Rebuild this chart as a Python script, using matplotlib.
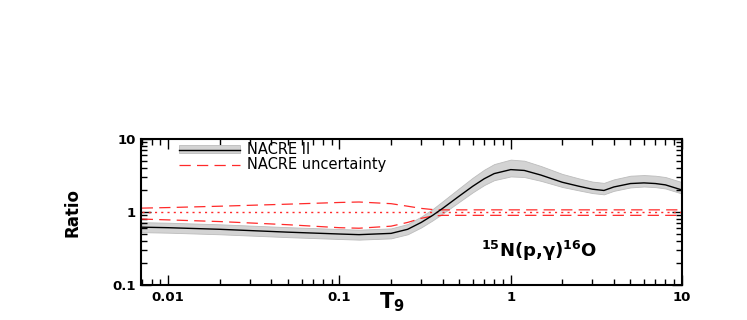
import matplotlib
matplotlib.use("Agg")
import matplotlib.pyplot as plt
import numpy as np
from matplotlib.ticker import LogLocator, NullFormatter, FixedLocator, FixedFormatter
from matplotlib.patches import Patch
from matplotlib.lines import Line2D

# NACRE II ratio curve
T = [0.007, 0.01, 0.02, 0.05, 0.1, 0.13, 0.2, 0.25, 0.3, 0.35, 0.4, 0.5, 0.6, 0.7,
     0.8, 1.0, 1.2, 1.5, 2.0, 2.5, 3.0, 3.5, 4.0, 5.0, 6.0, 7.0, 8.0, 10.0]
ratio = [0.62, 0.61, 0.58, 0.53, 0.50, 0.49, 0.51, 0.58, 0.72, 0.90, 1.12, 1.65, 2.25, 2.85,
         3.35, 3.8, 3.7, 3.2, 2.55, 2.25, 2.05, 1.97, 2.2, 2.45, 2.5, 2.45, 2.35, 2.0]
band_up = [1.17, 1.17, 1.17, 1.17, 1.17, 1.17, 1.17, 1.18, 1.2, 1.22, 1.25, 1.28, 1.31, 1.33,
           1.35, 1.37, 1.36, 1.33, 1.3, 1.28, 1.27, 1.27, 1.27, 1.28, 1.28, 1.28, 1.28, 1.28]
band_lo = [1.17, 1.17, 1.17, 1.17, 1.17, 1.17, 1.17, 1.17, 1.17, 1.17, 1.18, 1.2, 1.21, 1.22,
           1.23, 1.24, 1.23, 1.2, 1.16, 1.14, 1.13, 1.13, 1.13, 1.13, 1.12, 1.12, 1.12, 1.12]

# NACRE uncertainty
Tu = [0.007, 0.01, 0.02, 0.05, 0.1, 0.13, 0.2, 0.25, 0.3, 0.35, 0.4, 0.5, 1, 2, 5, 10]
nacre_up = [1.13, 1.15, 1.20, 1.28, 1.35, 1.37, 1.30, 1.20, 1.12, 1.08, 1.07, 1.07, 1.07, 1.07, 1.07, 1.07]
nacre_lo = [0.80, 0.78, 0.74, 0.67, 0.61, 0.60, 0.64, 0.72, 0.82, 0.88, 0.90, 0.90, 0.90, 0.90, 0.90, 0.90]
nacre_mid = [1.0] * len(Tu)

plt.rcParams['font.family'] = ['DejaVu Sans']

fig = plt.figure(figsize=(7.47, 3.2), dpi=100)
ax = fig.add_axes([0.189, 0.109, 0.724, 0.457])

band_color = '#d3d3d3'
Ta = np.array(T); ra = np.array(ratio)
ax.fill_between(Ta, ra / np.array(band_lo), ra * np.array(band_up), facecolor=band_color,
                edgecolor='#bcbcbc', linewidth=0.6, zorder=1)
ax.plot(Ta, ra, color='black', lw=1.0, zorder=3)

red = '#ff2a2a'
ax.plot(Tu, nacre_up, color=red, ls=(0, (9, 5)), lw=0.9, zorder=2)
ax.plot(Tu, nacre_lo, color=red, ls=(0, (9, 5)), lw=0.9, zorder=2)
ax.plot(Tu, nacre_mid, color=red, ls=(0, (1.5, 3)), lw=1.0, zorder=2)

ax.set_xscale('log'); ax.set_yscale('log')
ax.set_xlim(0.00695, 10); ax.set_ylim(0.1, 10)

ax.xaxis.set_major_locator(FixedLocator([0.01, 0.1, 1, 10]))
ax.xaxis.set_major_formatter(FixedFormatter(['0.01', '0.1', '1', '10']))
ax.yaxis.set_major_locator(FixedLocator([0.1, 1, 10]))
ax.yaxis.set_major_formatter(FixedFormatter(['0.1', '1', '10']))
ax.xaxis.set_minor_locator(LogLocator(base=10, subs=np.arange(2, 10)))
ax.yaxis.set_minor_locator(LogLocator(base=10, subs=np.arange(2, 10)))
ax.xaxis.set_minor_formatter(NullFormatter()); ax.yaxis.set_minor_formatter(NullFormatter())
ax.tick_params(which='both', direction='in', top=True, right=True, width=1.0)
ax.tick_params(which='major', length=7, labelsize=9.5, pad=4)
ax.tick_params(which='minor', length=4)
for lab in ax.get_xticklabels() + ax.get_yticklabels():
    lab.set_fontweight('bold')
for s in ax.spines.values():
    s.set_linewidth(1.5)

fig.text(0.097, 0.335, 'Ratio', rotation=90, fontsize=12, fontweight='bold',
         ha='center', va='center')
fig.text(0.508, 0.055, r'$\mathbf{T_9}$', fontsize=15, ha='left', va='center')

ax.text(0.628, 0.19, r'$^{\mathbf{15}}$N(p,$\mathbf{\gamma}$)$^{\mathbf{16}}$O', transform=ax.transAxes,
        fontsize=13, fontweight='bold')

h1 = (Patch(facecolor=band_color, edgecolor='#bcbcbc', lw=0.6),
      Line2D([], [], color='black', lw=1.0))
h2 = Line2D([], [], color=red, ls=(0, (9, 5)), lw=0.9)
leg = ax.legend([h1, h2], ['NACRE II', 'NACRE uncertainty'], loc='upper left',
                bbox_to_anchor=(0.045, 1.065), frameon=False, fontsize=10.5,
                handlelength=4.2, handleheight=0.45, labelspacing=0.0, handletextpad=0.5)

fig.savefig('out.png', dpi=100)
